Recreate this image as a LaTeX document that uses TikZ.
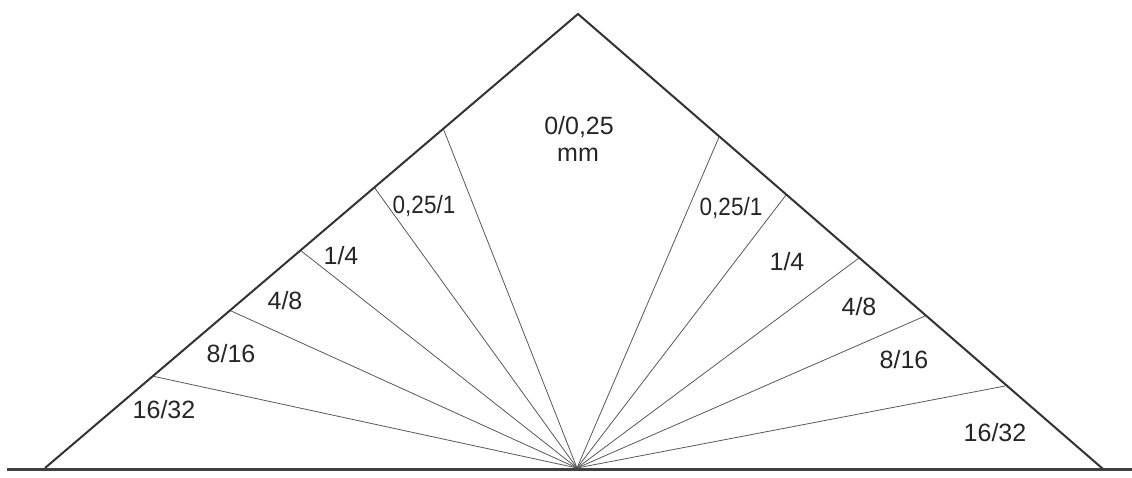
\documentclass[tikz,border=0pt]{standalone}
\usepackage{fontspec}
\setmainfont{Liberation Sans}
\begin{document}
\begin{tikzpicture}[x=1pt,y=-1pt,
  edge/.style={draw=black!80,line width=2pt,line join=miter},
  ground/.style={draw=black!75,line width=3pt},
  fan/.style={draw=black!65,line width=0.8pt},
  lbl/.style={font=\fontsize{25}{27}\selectfont,text=black!85,inner sep=0pt},
  slbl/.style={font=\fontsize{25}{27}\selectfont,text=black!85,inner sep=0pt,xscale=0.9}]
\useasboundingbox (0,0) rectangle (1132,478);
\fill[white] (0,0) rectangle (1132,478);
% key points
\coordinate (O) at (577,468);
\coordinate (A) at (578,14);
\coordinate (L) at (45,468);
\coordinate (R) at (1103,469);
\coordinate (G0) at (7,469);
\coordinate (G1) at (1132,469);
\coordinate (L1) at (443,128);
\coordinate (L2) at (374,187);
\coordinate (L3) at (300,250);
\coordinate (L4) at (229,310);
\coordinate (L5) at (152,376);
\coordinate (R1) at (719,137);
\coordinate (R2) at (786,195);
\coordinate (R3) at (859,258);
\coordinate (R4) at (925,316);
\coordinate (R5) at (1005,386);
% fan lines
\foreach \p in {L1,L2,L3,L4,L5,R1,R2,R3,R4,R5}
  \draw[fan] (O) -- (\p);
% triangle and ground
\draw[edge] (L) -- (A) -- (R);
\draw[ground] (G0) -- (G1);
% labels
\node[lbl] (c1) at (579,127) {0/0,25};
\node[lbl] (c2) at (578,155) {mm};
\node[slbl] (l1) at (424,206) {0,25/1};
\node[lbl] (l2) at (341,256) {1/4};
\node[lbl] (l3) at (285,301) {4/8};
\node[lbl] (l4) at (231,354) {8/16};
\node[lbl] (l5) at (164,410) {16/32};
\node[slbl] (r1) at (731,208) {0,25/1};
\node[lbl] (r2) at (787,262) {1/4};
\node[lbl] (r3) at (859,307) {4/8};
\node[lbl] (r4) at (904,360) {8/16};
\node[lbl] (r5) at (995,433) {16/32};
\end{tikzpicture}
\end{document}
